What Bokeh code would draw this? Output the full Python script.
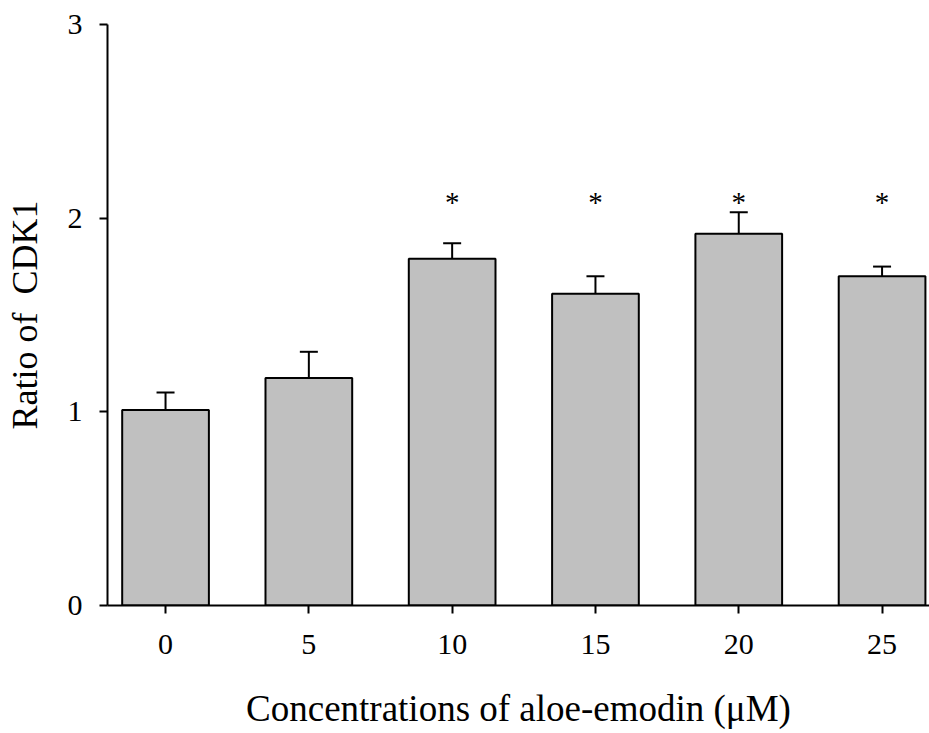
from bokeh.plotting import figure
from bokeh.models import ColumnDataSource, Range1d, FixedTicker, Whisker, TeeHead
from bokeh.core.properties import value
from bokeh.embed import file_html
from bokeh.resources import INLINE

categories = ["0", "5", "10", "15", "20", "25"]
ratio = [1.01, 1.175, 1.79, 1.61, 1.92, 1.70]
err_upper = [1.10, 1.31, 1.87, 1.70, 2.03, 1.75]
marks = ["", "", "*", "*", "*", "*"]
y_ticks = [0, 1, 2, 3]

xs = list(range(len(categories)))
star_level = 2.085
src = ColumnDataSource(dict(x=xs, top=ratio, upper=err_upper, mark=marks,
                            sy=[star_level] * len(xs)))

FONT = "Liberation Serif"
p = figure(width=929, height=731, output_backend="svg", toolbar_location=None,
           x_range=Range1d(-0.405, 5.331), y_range=Range1d(0, 3),
           min_border_left=107, min_border_top=24, min_border_right=0,
           min_border_bottom=124)
p.outline_line_color = None
p.xgrid.visible = False
p.ygrid.visible = False

p.vbar(x="x", top="top", width=0.605, bottom=0, source=src,
       fill_color="#c0c0c0", line_color="black", line_width=2)

w = Whisker(base="x", lower="top", upper="upper", source=src,
            line_color="black", line_width=2,
            upper_head=TeeHead(size=18, line_color="black", line_width=2),
            lower_head=None)
p.add_layout(w)

p.text(x="x", y="sy", text="mark", source=src, text_align="center",
       text_baseline="middle", text_font=value(FONT), text_font_size="29px",
       text_color="black")

for ax in (p.xaxis[0], p.yaxis[0]):
    ax.axis_line_color = "black"
    ax.axis_line_width = 2
    ax.major_tick_line_color = "black"
    ax.major_tick_line_width = 2
    ax.major_tick_in = 0
    ax.major_tick_out = 8
    ax.minor_tick_line_color = None
    ax.major_label_text_font = FONT
    ax.major_label_text_font_size = "30px"
    ax.major_label_text_color = "black"
    ax.axis_label_text_font = FONT
    ax.axis_label_text_font_size = "36px"
    ax.axis_label_text_font_style = "normal"
    ax.axis_label_text_color = "black"

p.xaxis.ticker = FixedTicker(ticks=xs)
p.xaxis.major_label_overrides = {i: c for i, c in zip(xs, categories)}
p.xaxis.major_label_standoff = 21
p.xaxis.axis_label = "Concentrations of aloe-emodin (\u03bcM)"
p.xaxis.axis_label_text_font_size = "37px"
p.xaxis.axis_label_standoff = 31

p.yaxis.ticker = FixedTicker(ticks=y_ticks)
p.yaxis.major_label_standoff = 17
p.yaxis.axis_label = "Ratio of \u00a0CDK1"
p.yaxis.axis_label_standoff = 20

open("out.html", "w").write(file_html(p, INLINE))
